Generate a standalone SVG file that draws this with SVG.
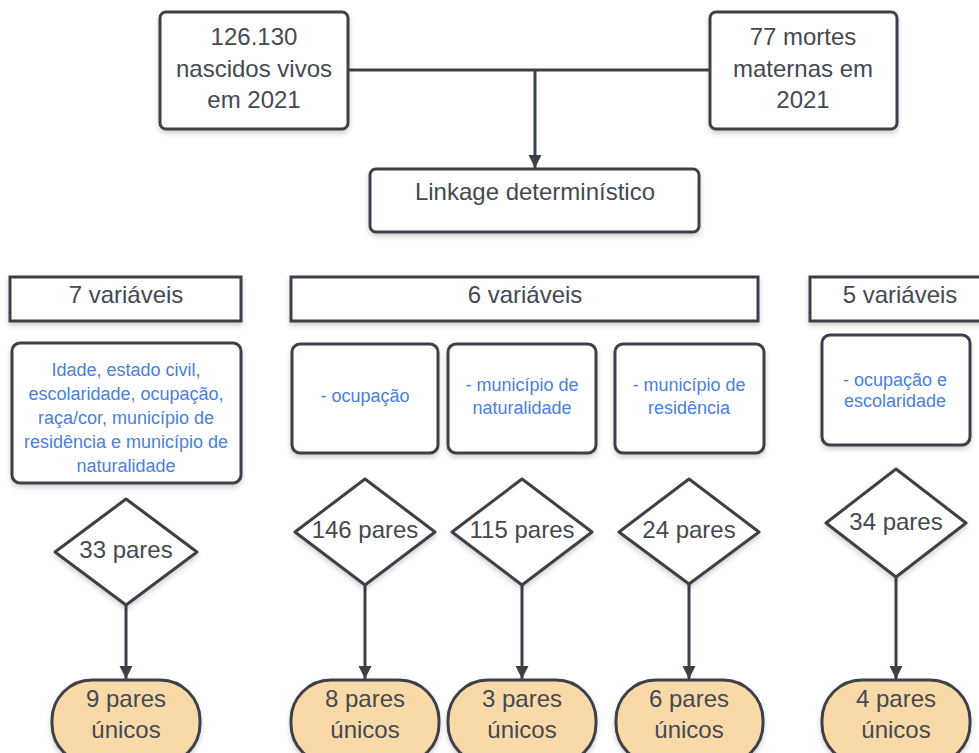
<svg xmlns="http://www.w3.org/2000/svg" width="979" height="753" viewBox="0 0 979 753">
<defs>
<filter id="sh" x="-10%" y="-10%" width="120%" height="130%">
<feDropShadow dx="0" dy="3" stdDeviation="2.5" flood-color="#000" flood-opacity="0.18"/>
</filter>
<marker id="arr" markerUnits="userSpaceOnUse" markerWidth="14" markerHeight="20" refX="13" refY="6.5" orient="auto">
<path d="M0,0 L13,6.5 L0,13 Z" fill="#3c4047"/>
</marker>
</defs>
<style>
.box{fill:#fff;stroke:#3c4047;stroke-width:3;filter:url(#sh)}
.cap{fill:#f9d9a8;stroke:#3c4047;stroke-width:3;filter:url(#sh)}
.dia{fill:#fff;stroke:#3c4047;stroke-width:3;stroke-linejoin:round;filter:url(#sh)}
.t{font-family:"Liberation Sans",Arial,sans-serif;font-size:24px;fill:#454950;text-anchor:middle}
.b{font-family:"Liberation Sans",Arial,sans-serif;font-size:18px;fill:#4a80e0;text-anchor:middle}
.c{fill:none;stroke:#3c4047;stroke-width:3}
</style>
<g id="connectors">
<path class="c" d="M348,70 L710,70"/>
<path class="c" d="M535,70 L535,168" marker-end="url(#arr)"/>
<path class="c" d="M126,605 L126,679" marker-end="url(#arr)"/>
<path class="c" d="M365,585 L365,679" marker-end="url(#arr)"/>
<path class="c" d="M522,585 L522,679" marker-end="url(#arr)"/>
<path class="c" d="M689,584 L689,679" marker-end="url(#arr)"/>
<path class="c" d="M896,577 L896,679" marker-end="url(#arr)"/>
</g>
<g id="nascidos">
<rect class="box" x="160" y="12" width="188" height="117" rx="6"/>
<text class="t" x="254" y="45">126.130</text>
<text class="t" x="254" y="77">nascidos vivos</text>
<text class="t" x="254" y="108">em 2021</text>
</g>
<g id="mortes">
<rect class="box" x="710" y="12" width="187" height="117" rx="6"/>
<text class="t" x="803" y="45">77 mortes</text>
<text class="t" x="803" y="77">maternas em</text>
<text class="t" x="803" y="108">2021</text>
</g>
<g id="linkage">
<rect class="box" x="370" y="169" width="329" height="63" rx="6"/>
<text class="t" x="535" y="200">Linkage determinístico</text>
</g>
<g id="var7">
<rect class="box" x="10" y="277" width="231" height="44"/>
<text class="t" x="126" y="303">7 variáveis</text>
</g>
<g id="var6">
<rect class="box" x="291" y="277" width="467" height="44"/>
<text class="t" x="525" y="303">6 variáveis</text>
</g>
<g id="var5">
<rect class="box" x="810" y="277" width="180" height="44"/>
<text class="t" x="900" y="303">5 variáveis</text>
</g>
<g id="desc7">
<rect class="box" x="12" y="343" width="229" height="140" rx="8"/>
<text class="b" x="126" y="376">Idade, estado civil,</text>
<text class="b" x="126" y="400">escolaridade, ocupação,</text>
<text class="b" x="126" y="424">raça/cor, município de</text>
<text class="b" x="126" y="448">residência e município de</text>
<text class="b" x="126" y="472">naturalidade</text>
</g>
<g id="desc6a">
<rect class="box" x="292" y="344" width="146" height="109" rx="8"/>
<text class="b" x="365" y="402">- ocupação</text>
</g>
<g id="desc6b">
<rect class="box" x="448" y="344" width="148" height="109" rx="8"/>
<text class="b" x="522" y="391">- município de</text>
<text class="b" x="522" y="414">naturalidade</text>
</g>
<g id="desc6c">
<rect class="box" x="615" y="344" width="149" height="109" rx="8"/>
<text class="b" x="689" y="391">- município de</text>
<text class="b" x="689" y="414">residência</text>
</g>
<g id="desc5">
<rect class="box" x="822" y="335" width="148" height="110" rx="8"/>
<text class="b" x="895" y="386">- ocupação e</text>
<text class="b" x="895" y="407">escolaridade</text>
</g>
<g id="d33">
<polygon class="dia" points="126,499 197,552 126,605 55,552"/>
<text class="t" x="126" y="558">33 pares</text>
</g>
<g id="d146">
<polygon class="dia" points="365,479 435,532 365,585 295,532"/>
<text class="t" x="365" y="538">146 pares</text>
</g>
<g id="d115">
<polygon class="dia" points="522,479 592,532 522,585 452,532"/>
<text class="t" x="522" y="538">115 pares</text>
</g>
<g id="d24">
<polygon class="dia" points="689,479 759,532 689,584 619,532"/>
<text class="t" x="689" y="538">24 pares</text>
</g>
<g id="d34">
<polygon class="dia" points="896,469 966,523 896,577 826,523"/>
<text class="t" x="896" y="530">34 pares</text>
</g>
<g id="u9">
<rect class="cap" x="52" y="680" width="148" height="84" rx="40"/>
<text class="t" x="126" y="707">9 pares</text>
<text class="t" x="126" y="738">únicos</text>
</g>
<g id="u8">
<rect class="cap" x="291" y="680" width="148" height="84" rx="40"/>
<text class="t" x="365" y="707">8 pares</text>
<text class="t" x="365" y="738">únicos</text>
</g>
<g id="u3">
<rect class="cap" x="448" y="680" width="148" height="84" rx="40"/>
<text class="t" x="522" y="707">3 pares</text>
<text class="t" x="522" y="738">únicos</text>
</g>
<g id="u6">
<rect class="cap" x="616" y="680" width="147" height="84" rx="40"/>
<text class="t" x="689" y="707">6 pares</text>
<text class="t" x="689" y="738">únicos</text>
</g>
<g id="u4">
<rect class="cap" x="822" y="680" width="148" height="84" rx="40"/>
<text class="t" x="896" y="707">4 pares</text>
<text class="t" x="896" y="738">únicos</text>
</g>
</svg>
